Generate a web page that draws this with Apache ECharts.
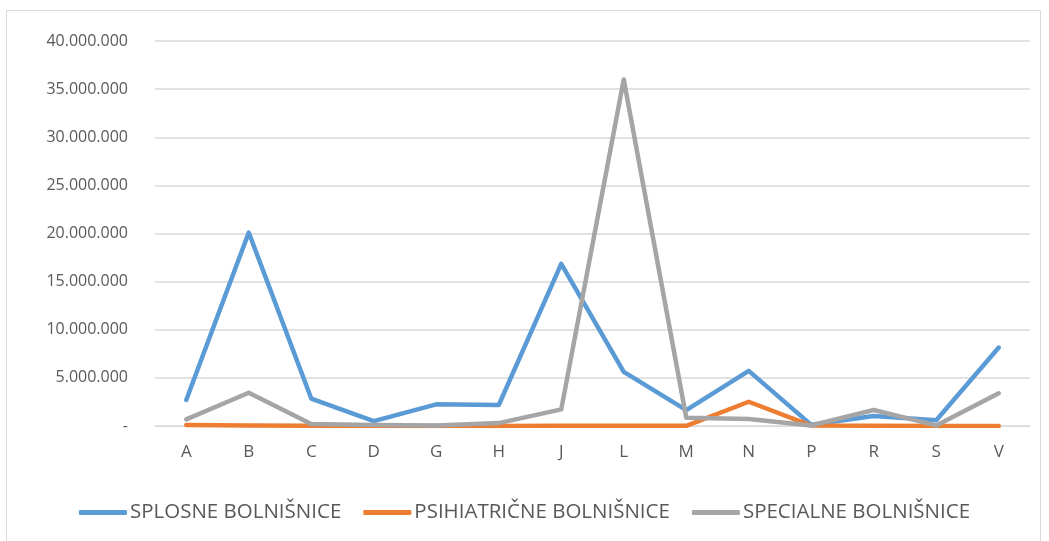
<!DOCTYPE html>
<html>
<head>
<meta charset="utf-8">
<script src="https://cdn.jsdelivr.net/npm/echarts@6/dist/echarts.min.js"></script>
<style>
  html, body { margin: 0; padding: 0; background: #fff; }
  #chart { width: 1049px; height: 541px; }
  #frame { position: absolute; left: 6px; top: 10px; width: 1033px; height: 540px; border: 1px solid #d9d9d9; pointer-events: none; }
</style>
</head>
<body>
<div id="chart"></div>
<div id="frame"></div>
<script>
// kategorije (regije)
const categories = ['A', 'B', 'C', 'D', 'G', 'H', 'J', 'L', 'M', 'N', 'P', 'R', 'S', 'V'];

// vrednosti serij
const splosne = [2700000, 20100000, 2850000, 500000, 2250000, 2180000, 16850000, 5630000, 1650000, 5730000, 120000, 1040000, 600000, 8150000];
const psihiatricne = [100000, 60000, 20000, 10000, 10000, 10000, 30000, 20000, 20000, 2520000, 40000, 20000, 10000, 10000];
const specialne = [690000, 3450000, 200000, 100000, 50000, 300000, 1730000, 36000000, 860000, 720000, 50000, 1660000, 60000, 3390000];

const seriesNames = ['SPLOSNE BOLNIŠNICE', 'PSIHIATRIČNE BOLNIŠNICE', 'SPECIALNE BOLNIŠNICE'];
const colors = ['#5B9BD5', '#ED7D31', '#A5A5A5'];

// oblikovanje števil z pikami
function formatNum(v) {
    if (v === 0) return '-';
    return String(v).replace(/\B(?=(\d{3})+(?!\d))/g, '.');
}

const chart = echarts.init(document.getElementById('chart'));

const option = {
    animation: false,
    color: colors,
    grid: { left: 155, right: 19, top: 41, bottom: 115 },
    legend: {
        top: 497,
        left: 'center',
        itemWidth: 48,
        itemHeight: 5,
        itemGap: 22,
        icon: 'roundRect',
        textStyle: { color: '#595959', fontSize: 20.5, fontFamily: 'Open Sans', padding: [0, 0, 0, -2] },
        data: seriesNames
    },
    xAxis: {
        type: 'category',
        data: categories,
        boundaryGap: true,
        axisLine: { lineStyle: { color: '#d9d9d9' } },
        axisTick: { show: false },
        axisLabel: { color: '#595959', fontSize: 17, fontFamily: 'Open Sans', margin: 18 }
    },
    yAxis: {
        type: 'value',
        min: 0,
        max: 40000000,
        interval: 5000000,
        axisLine: { show: false },
        axisTick: { show: false },
        splitLine: { lineStyle: { color: '#d9d9d9', width: 1.5 } },
        axisLabel: { color: '#595959', fontSize: 16, fontFamily: 'Open Sans', margin: 27, formatter: formatNum }
    },
    series: [
        { name: seriesNames[0], type: 'line', data: splosne },
        { name: seriesNames[1], type: 'line', data: psihiatricne },
        { name: seriesNames[2], type: 'line', data: specialne }
    ].map(s => Object.assign(s, {
        showSymbol: false,
        symbol: 'none',
        lineStyle: { width: 4.5, cap: 'round', join: 'round' }
    }))
};

chart.setOption(option);
</script>
</body>
</html>
